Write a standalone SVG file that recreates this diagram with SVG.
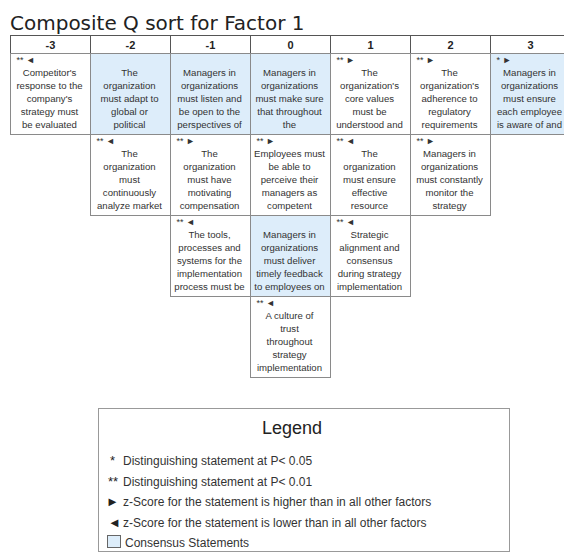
<svg xmlns="http://www.w3.org/2000/svg" width="564" height="558" viewBox="0 0 564 558">
<style>
.title{font-family:"DejaVu Sans",sans-serif;font-size:20px;fill:#222}
.hd rect{fill:#fff;stroke:#555;stroke-width:1}
.hd text{font-family:"Liberation Sans",Arial,sans-serif;font-size:11px;font-weight:bold;fill:#222;text-anchor:middle}
.c rect{fill:#fff;stroke:#8a8a8a;stroke-width:1}
.c.b rect{fill:#ddedfa}
.c text{font-family:"Liberation Sans",Arial,sans-serif;font-size:9.6px;fill:#333;text-anchor:middle}
.c text.m{font-size:9px;text-anchor:start;fill:#333}
.lg rect.box{fill:#fff;stroke:#999;stroke-width:1}
.lg text{font-family:"Liberation Sans",Arial,sans-serif;font-size:12px;fill:#333}
.lg text.t{font-size:18px;fill:#222}
.lg text.s{font-size:13px;fill:#222}
</style>
<rect width="564" height="558" fill="#fff"/>
<text class="title" x="10" y="30">Composite Q sort for Factor 1</text>

<g id="header" class="hd">
<rect x="10.5" y="35.5" width="80" height="18"/><text x="50.5" y="49">-3</text>
<rect x="90.5" y="35.5" width="80" height="18"/><text x="130.5" y="49">-2</text>
<rect x="170.5" y="35.5" width="80" height="18"/><text x="210.5" y="49">-1</text>
<rect x="250.5" y="35.5" width="80" height="18"/><text x="290.5" y="49">0</text>
<rect x="330.5" y="35.5" width="80" height="18"/><text x="370.5" y="49">1</text>
<rect x="410.5" y="35.5" width="80" height="18"/><text x="450.5" y="49">2</text>
<rect x="490.5" y="35.5" width="80" height="18"/><text x="530.5" y="49">3</text>
</g>

<!-- Row 1 -->
<g id="r1c-3" class="c" transform="translate(10.5,53.5)">
<rect width="80" height="81"/><text class="m" x="6" y="9">** ◄</text>
<text x="39" y="22">Competitor's</text><text x="39" y="35">response to the</text><text x="39" y="48">company's</text><text x="39" y="61">strategy must</text><text x="39" y="74">be evaluated</text>
</g>
<g id="r1c-2" class="c b" transform="translate(90.5,53.5)">
<rect width="80" height="81"/>
<text x="39" y="22">The</text><text x="39" y="35">organization</text><text x="39" y="48">must adapt to</text><text x="39" y="61">global or</text><text x="39" y="74">political</text>
</g>
<g id="r1c-1" class="c b" transform="translate(170.5,53.5)">
<rect width="80" height="81"/>
<text x="39" y="22">Managers in</text><text x="39" y="35">organizations</text><text x="39" y="48">must listen and</text><text x="39" y="61">be open to the</text><text x="39" y="74">perspectives of</text>
</g>
<g id="r1c0" class="c b" transform="translate(250.5,53.5)">
<rect width="80" height="81"/>
<text x="39" y="22">Managers in</text><text x="39" y="35">organizations</text><text x="39" y="48">must make sure</text><text x="39" y="61">that throughout</text><text x="39" y="74">the</text>
</g>
<g id="r1c1" class="c" transform="translate(330.5,53.5)">
<rect width="80" height="81"/><text class="m" x="6" y="9">** ►</text>
<text x="39" y="22">The</text><text x="39" y="35">organization's</text><text x="39" y="48">core values</text><text x="39" y="61">must be</text><text x="39" y="74">understood and</text>
</g>
<g id="r1c2" class="c" transform="translate(410.5,53.5)">
<rect width="80" height="81"/><text class="m" x="6" y="9">** ►</text>
<text x="39" y="22">The</text><text x="39" y="35">organization's</text><text x="39" y="48">adherence to</text><text x="39" y="61">regulatory</text><text x="39" y="74">requirements</text>
</g>
<g id="r1c3" class="c b" transform="translate(490.5,53.5)">
<rect width="80" height="81"/><text class="m" x="6" y="9">* ►</text>
<text x="39" y="22">Managers in</text><text x="39" y="35">organizations</text><text x="39" y="48">must ensure</text><text x="39" y="61">each employee</text><text x="39" y="74">is aware of and</text>
</g>

<!-- Row 2 -->
<g id="r2c-2" class="c" transform="translate(90.5,134.5)">
<rect width="80" height="81"/><text class="m" x="6" y="9">** ◄</text>
<text x="39" y="22">The</text><text x="39" y="35">organization</text><text x="39" y="48">must</text><text x="39" y="61">continuously</text><text x="39" y="74">analyze market</text>
</g>
<g id="r2c-1" class="c" transform="translate(170.5,134.5)">
<rect width="80" height="81"/><text class="m" x="6" y="9">** ►</text>
<text x="39" y="22">The</text><text x="39" y="35">organization</text><text x="39" y="48">must have</text><text x="39" y="61">motivating</text><text x="39" y="74">compensation</text>
</g>
<g id="r2c0" class="c" transform="translate(250.5,134.5)">
<rect width="80" height="81"/><text class="m" x="6" y="9">** ►</text>
<text x="39" y="22">Employees must</text><text x="39" y="35">be able to</text><text x="39" y="48">perceive their</text><text x="39" y="61">managers as</text><text x="39" y="74">competent</text>
</g>
<g id="r2c1" class="c" transform="translate(330.5,134.5)">
<rect width="80" height="81"/><text class="m" x="6" y="9">** ◄</text>
<text x="39" y="22">The</text><text x="39" y="35">organization</text><text x="39" y="48">must ensure</text><text x="39" y="61">effective</text><text x="39" y="74">resource</text>
</g>
<g id="r2c2" class="c" transform="translate(410.5,134.5)">
<rect width="80" height="81"/><text class="m" x="6" y="9">** ►</text>
<text x="39" y="22">Managers in</text><text x="39" y="35">organizations</text><text x="39" y="48">must constantly</text><text x="39" y="61">monitor the</text><text x="39" y="74">strategy</text>
</g>

<!-- Row 3 -->
<g id="r3c-1" class="c" transform="translate(170.5,215.5)">
<rect width="80" height="81"/><text class="m" x="6" y="9">** ◄</text>
<text x="39" y="22">The tools,</text><text x="39" y="35">processes and</text><text x="39" y="48">systems for the</text><text x="39" y="61">implementation</text><text x="39" y="74">process must be</text>
</g>
<g id="r3c0" class="c b" transform="translate(250.5,215.5)">
<rect width="80" height="81"/>
<text x="39" y="22">Managers in</text><text x="39" y="35">organizations</text><text x="39" y="48">must deliver</text><text x="39" y="61">timely feedback</text><text x="39" y="74">to employees on</text>
</g>
<g id="r3c1" class="c" transform="translate(330.5,215.5)">
<rect width="80" height="81"/><text class="m" x="6" y="9">** ◄</text>
<text x="39" y="22">Strategic</text><text x="39" y="35">alignment and</text><text x="39" y="48">consensus</text><text x="39" y="61">during strategy</text><text x="39" y="74">implementation</text>
</g>

<!-- Row 4 -->
<g id="r4c0" class="c" transform="translate(250.5,296.5)">
<rect width="80" height="81"/><text class="m" x="6" y="9">** ◄</text>
<text x="39" y="22">A culture of</text><text x="39" y="35">trust</text><text x="39" y="48">throughout</text><text x="39" y="61">strategy</text><text x="39" y="74">implementation</text>
</g>

<g id="legend" class="lg">
<rect class="box" x="98.5" y="408.5" width="411" height="143"/>
<text class="t" x="262" y="434">Legend</text>
<text class="s" x="110" y="465">*</text><text x="123" y="465">Distinguishing statement at P&lt; 0.05</text>
<text class="s" x="108" y="486">**</text><text x="123" y="486">Distinguishing statement at P&lt; 0.01</text>
<text class="s" x="106" y="506">►</text><text x="123" y="506">z-Score for the statement is higher than in all other factors</text>
<text class="s" x="108" y="527">◄</text><text x="123" y="527">z-Score for the statement is lower than in all other factors</text>
<rect x="107.5" y="535.5" width="13" height="12" fill="#ddedfa" stroke="#666"/>
<text x="125" y="547">Consensus Statements</text>
</g>
</svg>
